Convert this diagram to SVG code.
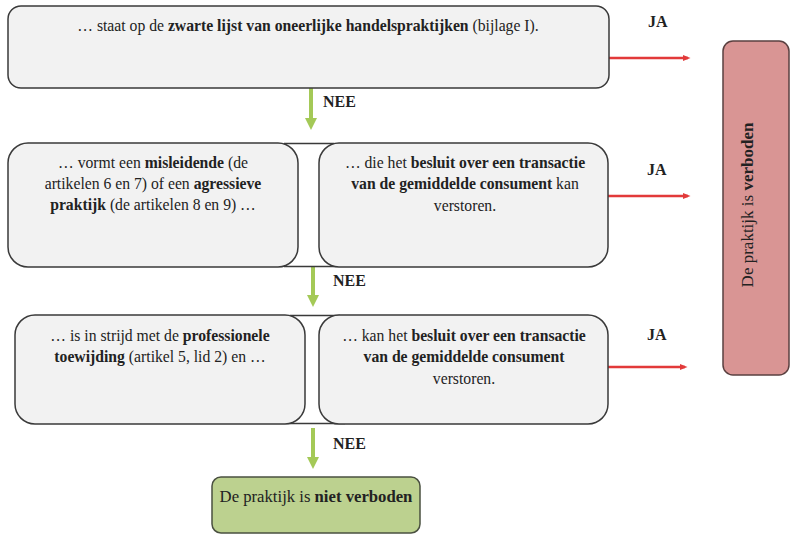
<svg xmlns="http://www.w3.org/2000/svg" width="800" height="538" viewBox="0 0 800 538">
<style>
text{font-family:'Liberation Serif','DejaVu Serif',serif;font-size:15.7px;fill:#222;}
.b{font-weight:bold;}
.box{fill:#f2f2f2;stroke:#3a3a3a;stroke-width:1.5;}
.red{fill:#d99594;stroke:#5a4040;stroke-width:1.5;}
.grn{fill:#bcd18f;stroke:#4a5040;stroke-width:1.5;}
.gline{stroke:#a4c957;stroke-width:4;fill:none;}
.rline{stroke:#e23a3a;stroke-width:2.5;fill:none;}
.lbl{font-weight:bold;font-size:16px;}
</style>
<defs>
<marker id="ga" markerWidth="4" markerHeight="4" refX="2" refY="2" orient="auto" markerUnits="strokeWidth"><path d="M0,0.5 L3,2 L0,3.5 Z" fill="#a4c957"/></marker>
<marker id="ra" markerWidth="4" markerHeight="4" refX="2" refY="2" orient="auto" markerUnits="strokeWidth"><path d="M0,0.8 L3,2 L0,3.2 Z" fill="#e23a3a"/></marker>
</defs>
<g id="connectors">
<line class="gline" x1="311" y1="88" x2="311" y2="126" marker-end="url(#ga)"/>
<line class="gline" x1="313" y1="267" x2="313" y2="303" marker-end="url(#ga)"/>
<line class="gline" x1="313" y1="428" x2="313" y2="465" marker-end="url(#ga)"/>
<line class="rline" x1="609" y1="58" x2="688" y2="58" marker-end="url(#ra)"/>
<line class="rline" x1="608" y1="196" x2="688" y2="196" marker-end="url(#ra)"/>
<line class="rline" x1="602" y1="367" x2="685" y2="367" marker-end="url(#ra)"/>
<text class="lbl" x="323" y="107">NEE</text>
<text class="lbl" x="333" y="286">NEE</text>
<text class="lbl" x="333" y="449">NEE</text>
<text class="lbl" x="648" y="27">JA</text>
<text class="lbl" x="647" y="175">JA</text>
<text class="lbl" x="647" y="340">JA</text>
</g>
<g id="n1">
<rect class="box" x="8" y="6" width="601" height="82" rx="13"/>
<text x="308" y="31" text-anchor="middle">… staat op de <tspan class="b">zwarte lijst van oneerlijke handelspraktijken</tspan> (bijlage I).</text>
</g>
<g id="n2-join">
<path d="M284,143.5 H334 M284,266.5 H334" stroke="#3a3a3a" stroke-width="1.5" fill="none"/>
</g>
<g id="n2a">
<rect class="box" x="8" y="143" width="290" height="124" rx="20"/>
<text x="153" y="168" text-anchor="middle">… vormt een <tspan class="b">misleidende</tspan> (de</text>
<text x="153" y="189" text-anchor="middle">artikelen 6 en 7) of een <tspan class="b">agressieve</tspan></text>
<text x="153" y="210" text-anchor="middle"><tspan class="b">praktijk</tspan> (de artikelen 8 en 9) …</text>
</g>
<g id="n2b">
<rect class="box" x="319" y="143" width="289" height="124" rx="20"/>
<text x="465" y="168" text-anchor="middle">… die het <tspan class="b">besluit over een transactie</tspan></text>
<text x="465" y="189" text-anchor="middle"><tspan class="b">van de gemiddelde consument</tspan> kan</text>
<text x="465" y="211" text-anchor="middle">verstoren.</text>
</g>
<g id="n3-join">
<path d="M290,315.5 H340 M290,423.5 H345" stroke="#3a3a3a" stroke-width="1.5" fill="none"/>
</g>
<g id="n3a">
<rect class="box" x="15" y="315" width="290" height="109" rx="20"/>
<text x="160" y="341" text-anchor="middle">… is in strijd met de <tspan class="b">professionele</tspan></text>
<text x="160" y="362" text-anchor="middle"><tspan class="b">toewijding</tspan> (artikel 5, lid 2) en …</text>
</g>
<g id="n3b">
<rect class="box" x="319" y="315" width="289" height="109" rx="20"/>
<text x="464" y="341" text-anchor="middle">… kan het <tspan class="b">besluit over een transactie</tspan></text>
<text x="464" y="362" text-anchor="middle" class="b">van de gemiddelde consument</text>
<text x="464" y="384" text-anchor="middle">verstoren.</text>
</g>
<g id="verboden">
<rect class="red" x="723" y="41" width="66" height="334" rx="10"/>
<text transform="translate(753,205) rotate(-90)" text-anchor="middle" style="font-size:17px">De praktijk is <tspan class="b">verboden</tspan></text>
</g>
<g id="niet-verboden">
<rect class="grn" x="212" y="477" width="208" height="56" rx="9"/>
<text x="316" y="502" text-anchor="middle" style="font-size:16.7px">De praktijk is <tspan class="b">niet verboden</tspan></text>
</g>
</svg>
